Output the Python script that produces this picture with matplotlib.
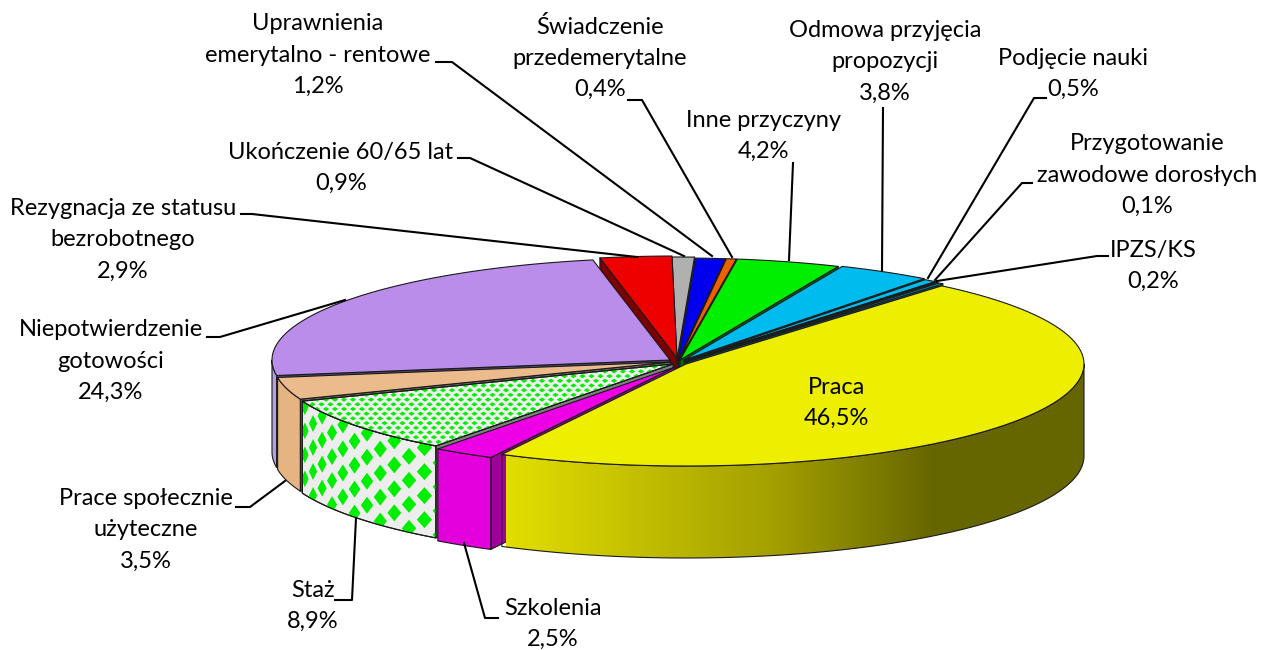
import numpy as np
import matplotlib
matplotlib.use('Agg')
import matplotlib.pyplot as plt
from matplotlib.patches import Polygon
from matplotlib.collections import PolyCollection
from matplotlib.colors import LinearSegmentedColormap

plt.rcParams['font.family'] = ['Lato', 'DejaVu Sans']

# values in clockwise order, starting at Praca
names = ['Praca', 'Szkolenia', 'Staż', 'Prace społecznie\nużyteczne', 'Niepotwierdzenie\ngotowości',
         'Rezygnacja ze statusu\nbezrobotnego', 'Ukończenie 60/65 lat', 'Uprawnienia\nemerytalno - rentowe',
         'Świadczenie\nprzedemerytalne', 'Inne przyczyny', 'Odmowa przyjęcia\npropozycji', 'Podjęcie nauki',
         'Przygotowanie\nzawodowe dorosłych', 'IPZS/KS']
values = [46.5, 2.5, 8.9, 3.5, 24.3, 2.9, 0.9, 1.2, 0.4, 4.2, 3.8, 0.5, 0.1, 0.2]

# slice centres on the canvas (exploded pie)
centres = [(686, 364), (675, 367), (673, 364), (671, 362), (670, 360), (677, 358), (677, 359),
           (678, 360), (679, 360), (680, 360), (684, 360), (685, 361), (686, 361), (687, 362)]
top_cols = ['#EEEE00', '#EE00E6', '#F0F0F0', '#EBBB8B', '#BB8DEB', '#EE0000', '#B0B0B0',
            '#0000EE', '#EE6000', '#00EE00', '#00BBEE', '#00BBEE', '#A8A8A8', '#00A0C8']
side_cols = ['#DDD800', '#E400DC', '#EDEDED', '#E6B482', '#B49FE0', '#E00000', '#A0A0A0',
             '#0000D0', '#D05000', '#00D000', '#00A0D0', '#00A0D0', '#909090', '#008CB0']
face_cols = ['#8C8A00', '#A0009A', '#808080', '#6E6660', '#4F4470', '#7B0000', '#505050',
             '#000070', '#803000', '#007000', '#006080', '#005A78', '#404040', '#0088AC']

# label block centres and leader polylines
label_pos = [(836, 403), (553, 624), (313, 606), (146, 530), (111, 361), (123, 240), (341, 168),
             (318, 55), (600, 58), (763, 136), (885, 62), (1073, 74), (1147, 175), (1153, 266)]
leaders = [None,
           [(498, 618), (485, 618), (464, 543)],
           [(335, 600), (352, 600), (356, 518)],
           [(236, 507), (250, 507), (285, 481)],
           [(207, 337), (220, 337), (345, 300)],
           [(241, 214), (252, 214), (637, 257)],
           [(458, 158), (470, 158), (684, 256)],
           [(436, 62), (452, 62), (712, 256)],
           [(628, 100), (642, 100), (732, 257)],
           [(793, 163), (789, 260)],
           [(883, 108), (882, 270)],
           [(1046, 98), (1034, 98), (928, 278)],
           [(1032, 183), (1022, 183), (935, 280)],
           [(1108, 256), (1097, 256), (937, 281)]]

RX, RY, DEPTH = 398, 102, 92
START = 50.0
LW = 0.8
EDGE = '#1a1a1a'

fig = plt.figure(figsize=(12.61, 6.5), dpi=100)
ax = fig.add_axes([0, 0, 1, 1])
ax.set_xlim(0, 1261)
ax.set_ylim(650, 0)
ax.axis('off')

# angle ranges, going clockwise from START
sweeps = np.array(values) / sum(values) * 360
hi = START - np.concatenate([[0], np.cumsum(sweeps)[:-1]])
lo = hi - sweeps

z = [10]


def nextz():
    z[0] += 1
    return z[0]


def rim(i, t, dy=0):
    cx, cy = centres[i]
    r = np.radians(t)
    return np.column_stack([cx + RX * np.cos(r), cy - RY * np.sin(r) + dy])


def add_poly(pts, fc, ec=EDGE, lw=LW):
    p = Polygon(pts, closed=True, fc=fc, ec=ec, lw=lw, joinstyle='round', zorder=nextz())
    ax.add_patch(p)
    return p


def diamonds(xs, ys, ws, hs, clip):
    verts = [[(x, y - h), (x + w, y), (x, y + h), (x - w, y)] for x, y, w, h in zip(xs, ys, ws, hs)]
    pc = PolyCollection(verts, facecolors='#00EE00', edgecolors='none', zorder=nextz())
    ax.add_collection(pc)
    pc.set_clip_path(clip)


def draw_side(i, a, b):
    # outer wall between angles a and b (front half only)
    ts = np.linspace(a, b, 80)
    return np.vstack([rim(i, ts), rim(i, ts[::-1], DEPTH)])


def draw_slice(i, visible_face):
    cx, cy = centres[i]
    a, b = lo[i], hi[i]
    # wedge face that looks at the viewer through the gap
    t = a if visible_face == 'lo' else b
    e = rim(i, t)[0]
    add_poly([(cx, cy), tuple(e), (e[0], e[1] + DEPTH), (cx, cy + DEPTH)], face_cols[i])

    # front wall, only where the rim faces down
    s0, s1 = None, None
    for base in (-360, 0):
        aa = max(a, base - 180)
        bb = min(b, base)
        if bb > aa:
            s0, s1 = aa, bb
    if s0 is not None:
        pts = draw_side(i, s0, s1)
        if i == 0:
            # yellow wall has a horizontal gradient
            cmap = LinearSegmentedColormap.from_list('wall', [(0, '#E2DE00'), (0.47, '#A29E00'),
                                                              (0.74, '#666600'), (1, '#666600')])
            clip = add_poly(pts, 'none')
            im = ax.imshow(np.linspace(0, 1, 256).reshape(1, -1), cmap=cmap, aspect='auto',
                           extent=(506, 1084, 560, 360), zorder=z[0] - 0.5)
            im.set_clip_path(clip)
            ax.set_xlim(0, 1261)
            ax.set_ylim(650, 0)
        elif i == 2:
            clip = add_poly(pts, side_cols[i])
            ts = np.arange(s0 + 1, s1 + 1, 2.9)
            xs, ys, ws, hs = [], [], [], []
            for k, tt in enumerate(ts):
                p = rim(i, tt)[0]
                wall_w = abs(np.sin(np.radians(tt))) * RX * np.radians(2.9)
                for v in np.arange(4 + 12 * (k % 2), DEPTH + 14, 24):
                    xs.append(p[0])
                    ys.append(p[1] + v)
                    ws.append(wall_w * 0.48)
                    hs.append(8.5)
            diamonds(xs, ys, ws, hs, clip)
            add_poly(pts, 'none')
        else:
            add_poly(pts, side_cols[i])

    # top surface
    ts = np.linspace(hi[i], lo[i], 80)
    top = np.vstack([[(cx, cy)], rim(i, ts)])
    patch = add_poly(top, top_cols[i])
    if i == 2:
        xs, ys = [], []
        for r, y in enumerate(np.arange(362, 452, 4.7)):
            for x in np.arange(290 + 4.5 * (r % 2), 680, 9.0):
                xs.append(x)
                ys.append(y)
        diamonds(xs, ys, [3.2] * len(xs), [2.1] * len(xs), patch)
        add_poly(top, 'none')


# back slices right of the top, clockwise, then left ones, yellow in front
order_right = [6, 7, 8, 9, 10, 11, 12, 13]
order_left = [5, 4, 3, 2, 1]
for i in order_right:
    draw_slice(i, 'lo')
for i in order_left:
    draw_slice(i, 'hi')
draw_slice(0, 'hi')

for name, val, pos, lead in zip(names, values, label_pos, leaders):
    label = f"{name}\n{val:.1f}%".replace('.', ',')
    ax.text(pos[0], pos[1], label, ha='center', va='center', fontsize=17, color='black',
            linespacing=1.6, zorder=500)
    if lead is not None:
        ax.plot(*zip(*lead), color='black', lw=1.5, solid_joinstyle='round', zorder=400)

fig.savefig('out.png', dpi=100)
